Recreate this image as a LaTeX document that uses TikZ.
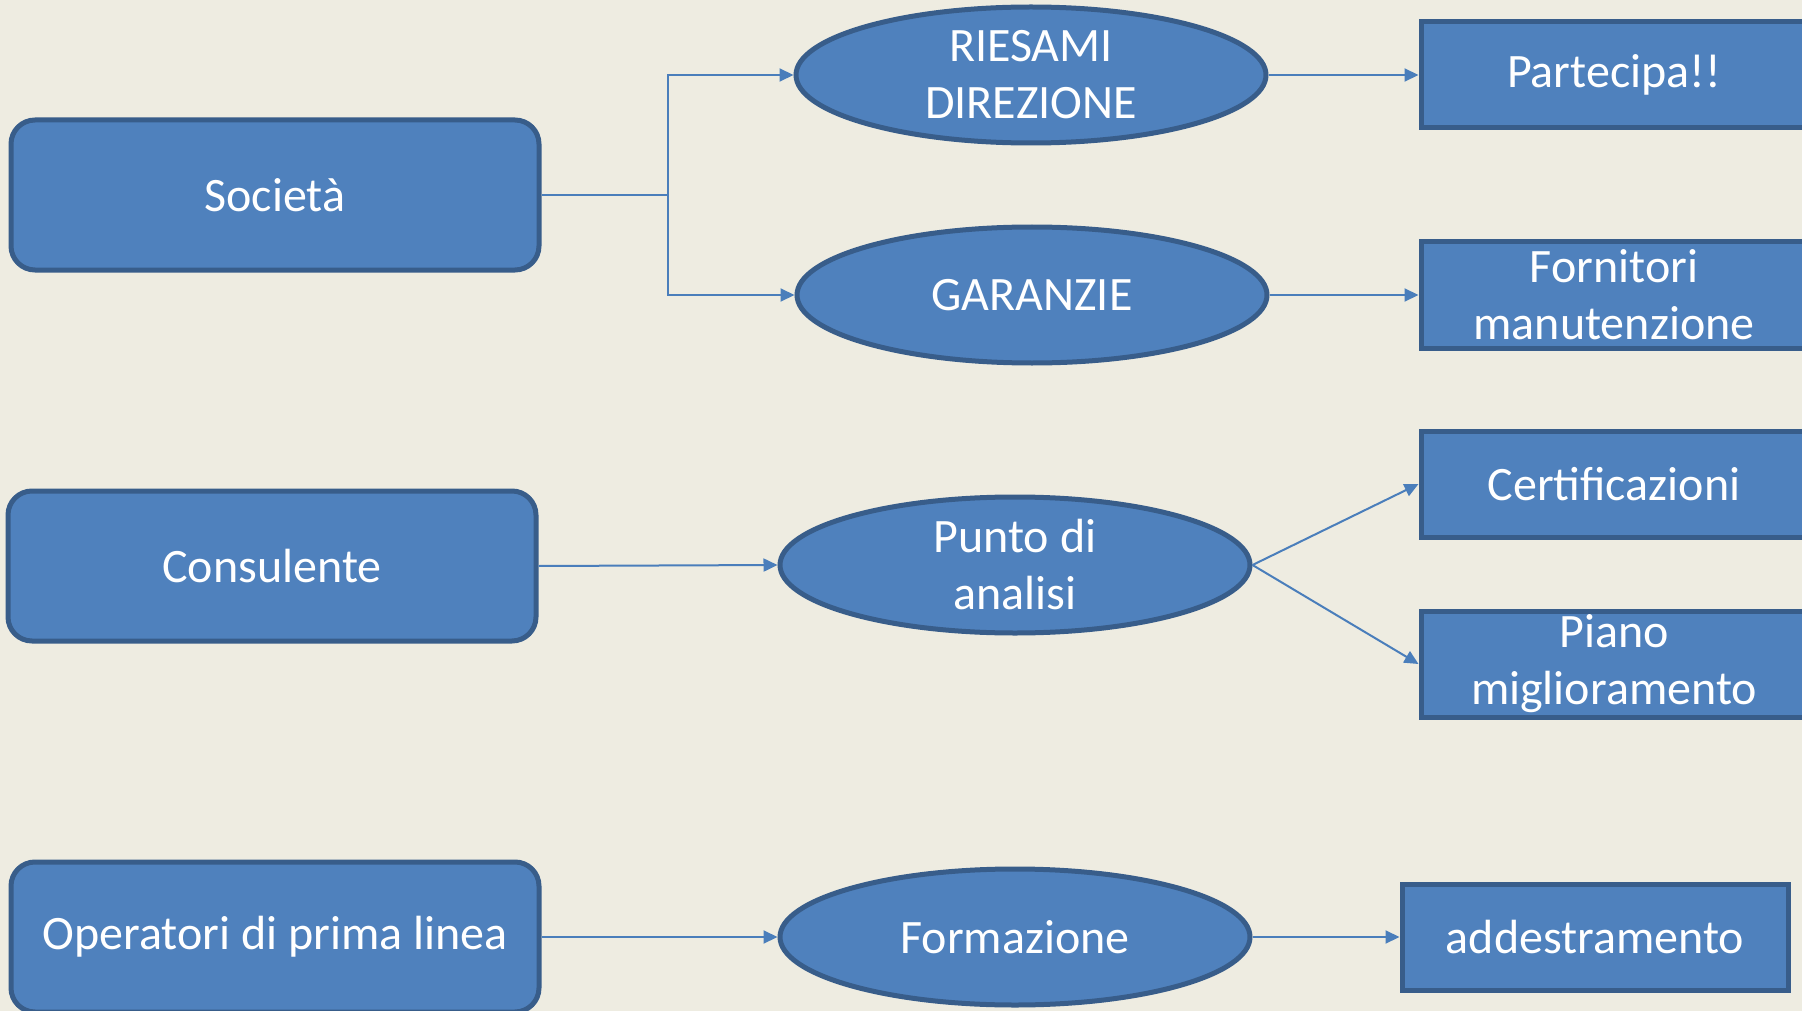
\documentclass[tikz,border=0pt]{standalone}
\usepackage{fontspec}
\setmainfont{Carlito}
\usetikzlibrary{shapes.geometric,arrows.meta}
\definecolor{bgc}{HTML}{EEECE1}
\definecolor{fillc}{HTML}{4F81BD}
\definecolor{edgec}{HTML}{385D8A}
\definecolor{linec}{HTML}{4A7EBB}
\tikzset{
  base/.style={fill=fillc, draw=edgec, line width=5pt, text=white, inner sep=0pt,
    font=\fontsize{48}{57}\selectfont, align=center},
  rbox/.style={base, rectangle, rounded corners=24pt, minimum width=528pt, minimum height=150pt},
  oval/.style={base, ellipse, minimum width=470pt, minimum height=136pt},
  sbox/.style={base, rectangle, minimum width=386pt, minimum height=106pt},
  conn/.style={draw=linec, line width=2pt, -{Triangle[length=14pt,width=13pt]}}
}
\begin{document}
\begin{tikzpicture}[x=1pt,y=-1pt]
\useasboundingbox (0,0) rectangle (1802,1011);
\fill[bgc] (0,0) rectangle (1802,1011);
\clip (0,0) rectangle (1802,1011);
% left column
\node[rbox] (soc) at (275,195) {Società};
\node[rbox] (cons) at (272,566) {Consulente};
\node[rbox] (oper) at (275,937) {Operatori di prima linea};
% middle column
\node[oval] (ries) at (1031,75) {RIESAMI\\DIREZIONE};
\node[oval] (gar) at (1032,295) {GARANZIE};
\node[oval] (punto) at (1015,565) {Punto di\\analisi};
\node[oval] (form) at (1015,937) {Formazione};
% right column
\node[sbox] (part) at (1614,75) {Partecipa!!};
\node[sbox] (forn) at (1614,295) {Fornitori\\manutenzione};
\node[sbox] (cert) at (1614,484) {Certificazioni};
\node[sbox] (piano) at (1614,664) {Piano\\miglioramento};
\node[sbox] (addes) at (1595,937) {addestramento};
% connectors
\coordinate (j) at (668,195);
\draw[draw=linec, line width=2pt] (soc.east) -- (j);
\draw[conn] (j) |- (ries.west);
\draw[conn] (j) |- (gar.west);
\draw[conn] (cons.east) -- (punto.west);
\draw[conn] (oper.east) -- (form.west);
\draw[conn] (ries.east) -- (part.west);
\draw[conn] (gar.east) -- (forn.west);
\draw[conn] (punto.east) -- (cert.west);
\draw[conn] (punto.east) -- (piano.west);
\draw[conn] (form.east) -- (addes.west);
\end{tikzpicture}
\end{document}
